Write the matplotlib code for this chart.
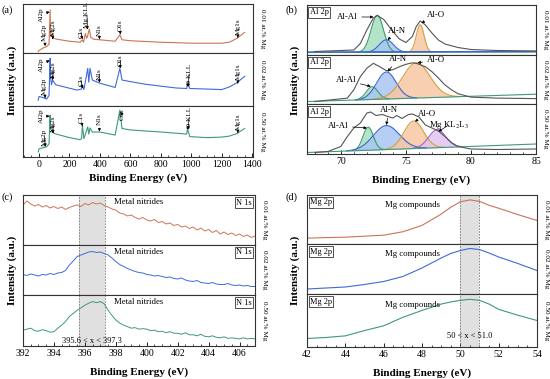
import numpy as np
import matplotlib
matplotlib.use("Agg")
import matplotlib.pyplot as plt

plt.rcParams['font.family'] = ['Liberation Serif', 'DejaVu Serif']
plt.rcParams['mathtext.fontset'] = 'stix'

W, H = 550, 379
samples = ["0.01 at.% Mg", "0.02 at.% Mg", "0.50 at.% Mg"]
colors = ['#cc7458', '#3f6ad8', '#3d9a78']

# ---------------- (a) survey ----------------
a_x = [[-5, 0, 26, 50, 66, 73, 76, 80, 89, 95, 120, 200, 270, 285, 292, 305, 312, 318, 330, 340, 360, 397, 500, 531, 545, 600, 800, 1000, 1200, 1250, 1300, 1320, 1350],
       [-5, 0, 26, 50, 66, 73, 76, 82, 89, 110, 250, 280, 285, 295, 320, 327, 335, 350, 400, 500, 531, 545, 600, 700, 900, 970, 975, 990, 1100, 1200, 1250, 1300, 1350],
       [-5, 0, 26, 50, 66, 73, 76, 90, 100, 200, 270, 280, 285, 295, 320, 327, 335, 350, 400, 500, 531, 545, 600, 800, 970, 975, 990, 1100, 1200, 1250, 1300, 1350]]
a_y = [[3, 5, 10, 13, 18, 88, 40, 34, 40, 30, 28, 24, 22, 27, 22, 40, 30, 33, 49, 32, 28, 27, 24, 37, 27, 25, 22, 20, 20, 22, 30, 35, 42],
       [11, 18, 16, 13, 20, 90, 55, 40, 49, 40, 30, 32, 40, 31, 71, 45, 71, 49, 43, 35, 71, 49, 46, 41, 34, 33, 44, 33, 32, 31, 36, 44, 56],
       [10, 16, 18, 20, 26, 82, 55, 50, 46, 38, 34, 36, 62, 36, 59, 45, 57, 49, 49, 43, 92, 56, 53, 49, 45, 56, 40, 38, 39, 41, 46, 56]]
a_labels = [
    [("Al2p", 15, 64, 70, 84), ("Mg2p", 37, 24, 40, 14), ("Mg2s", 92, 35, 90, 28), ("C1s", 275, 30, 285, 28),
     ("Mg KLL", 315, 51, 318, 48), ("N1s", 395, 34, 397, 28), ("O1s", 535, 44, 533, 38), ("Mg1s", 1308, 37, 1305, 31)],
    [("Al2p", 15, 65, 70, 86), ("Mg2p", 37, 21, 40, 15), ("Mg2s", 92, 53, 90, 49), ("C1s", 275, 38, 285, 33),
     ("N1s", 395, 49, 397, 44), ("O1s", 535, 75, 533, 71), ("O KLL", 986, 40, 978, 36), ("Mg1s", 1308, 49, 1305, 42)],
    [("Al2p", 15, 66, 70, 80), ("Mg2p", 37, 22, 42, 20), ("Mg2s", 92, 49, 92, 46), ("C1s", 275, 66, 285, 60),
     ("N1s", 395, 62, 397, 50), ("O1s", 548, 72, 533, 88), ("O KLL", 986, 56, 978, 54), ("Mg1s", 1308, 53, 1305, 47)]]

# ---------------- (b) Al 2p ----------------
b_env_x = [[68, 71, 71.5, 72, 72.5, 72.8, 73.3, 74, 74.5, 75, 75.5, 75.8, 76.1, 76.5, 77, 77.5, 78, 79, 80, 82, 85],
           [68, 70.5, 71, 71.5, 72, 72.5, 73, 73.5, 74, 74.5, 75, 75.5, 75.8, 76.5, 77, 77.5, 78, 78.5, 79, 80, 82, 85],
           [68, 69, 70, 70.5, 71, 71.5, 72, 72.3, 72.7, 73.2, 73.6, 74, 74.3, 74.7, 75.2, 75.5, 76, 76.5, 77, 77.5, 78, 78.5, 79, 80, 82, 85]]
b_env_y = [[0.07, 0.10, 0.23, 0.50, 0.74, 0.79, 0.71, 0.47, 0.32, 0.25, 0.37, 0.57, 0.68, 0.60, 0.44, 0.30, 0.22, 0.15, 0.11, 0.09, 0.08],
           [0.05, 0.12, 0.29, 0.56, 0.73, 0.83, 0.76, 0.68, 0.70, 0.76, 0.81, 0.84, 0.83, 0.76, 0.66, 0.53, 0.39, 0.29, 0.21, 0.14, 0.12, 0.11],
           [0.03, 0.05, 0.15, 0.35, 0.52, 0.62, 0.82, 0.84, 0.77, 0.79, 0.75, 0.72, 0.77, 0.71, 0.79, 0.80, 0.74, 0.58, 0.52, 0.46, 0.35, 0.23, 0.15, 0.10, 0.09, 0.10]]
b_bg = [(0.05, 0.06), (0.05, 0.20), (0.03, 0.20)]
# components: (name, center, sigma, height above background)
b_comp = [[("Al-Al", 72.8, 0.48, 0.74), ("Al-N", 73.5, 0.55, 0.25), ("Al-O", 76.1, 0.30, 0.55)],
          [("Al-Al", 72.4, 0.45, 0.26), ("Al-N", 73.5, 0.75, 0.55), ("Al-O", 75.8, 1.05, 0.72)],
          [("Al-Al", 72.1, 0.40, 0.46), ("Al-N", 73.5, 1.00, 0.48), ("Al-O", 75.6, 0.75, 0.55), ("Mg KL$_2$L$_3$", 77.4, 0.65, 0.36)]]
b_ann = [[("Al-Al", 70.5, 0.76, 72.5, 0.76), ("Al-N", 74.3, 0.48, 73.6, 0.30), ("Al-O", 77.3, 0.80, 76.2, 0.64)],
         [("Al-Al", 70.4, 0.48, 72.3, 0.36), ("Al-N", 74.4, 0.92, 73.6, 0.66), ("Al-O", 77.3, 0.90, 75.9, 0.84)],
         [("Al-Al", 69.8, 0.56, 72.0, 0.52), ("Al-N", 73.7, 0.88, 73.5, 0.58), ("Al-O", 76.6, 0.80, 75.7, 0.65),
          ("Mg KL$_2$L$_3$", 78.3, 0.58, 77.5, 0.45)]]
comp_style = {"Al-Al": ('#a6e0c0', '#3f9a68'), "Al-N": ('#a9c6f2', '#3a66d0'),
              "Al-O": ('#f7c7a2', '#d2a040'), "Mg KL$_2$L$_3$": ('#e2c4f0', '#a067c4')}

# ---------------- (c) N 1s ----------------
c_x = np.arange(392.0, 407.01, 0.25)
c_y = [
    [0.80, 0.88, 0.82, 0.78, 0.81, 0.76, 0.79, 0.74, 0.77, 0.73, 0.76, 0.71, 0.75, 0.78, 0.80, 0.77, 0.83, 0.80, 0.85, 0.82,
     0.84, 0.79, 0.76, 0.72, 0.70, 0.64, 0.62, 0.58, 0.60, 0.55, 0.52, 0.55, 0.50, 0.48, 0.51, 0.45, 0.47, 0.42, 0.44, 0.39,
     0.41, 0.36, 0.38, 0.33, 0.36, 0.30, 0.34, 0.28, 0.31, 0.25, 0.29, 0.22, 0.26, 0.21, 0.24, 0.19, 0.22, 0.17, 0.20, 0.15, 0.18],
    [0.41, 0.39, 0.42, 0.40, 0.38, 0.41, 0.40, 0.43, 0.41, 0.44, 0.45, 0.49, 0.60, 0.68, 0.77, 0.80, 0.83, 0.86, 0.87, 0.85,
     0.86, 0.83, 0.80, 0.74, 0.67, 0.61, 0.57, 0.53, 0.50, 0.47, 0.45, 0.44, 0.41, 0.40, 0.38, 0.39, 0.37, 0.35, 0.36, 0.33,
     0.32, 0.34, 0.30, 0.28, 0.27, 0.29, 0.25, 0.24, 0.23, 0.25, 0.22, 0.21, 0.21, 0.23, 0.20, 0.19, 0.20, 0.18, 0.19, 0.17, 0.17],
    [0.31, 0.33, 0.35, 0.30, 0.29, 0.32, 0.30, 0.27, 0.28, 0.35, 0.41, 0.48, 0.58, 0.64, 0.70, 0.75, 0.80, 0.84, 0.87, 0.85,
     0.87, 0.83, 0.70, 0.60, 0.51, 0.45, 0.41, 0.38, 0.35, 0.36, 0.33, 0.34, 0.33, 0.30, 0.31, 0.28, 0.29, 0.26, 0.28, 0.25,
     0.25, 0.23, 0.26, 0.22, 0.22, 0.20, 0.23, 0.19, 0.18, 0.20, 0.17, 0.16, 0.18, 0.15, 0.16, 0.15, 0.14, 0.16, 0.14, 0.15, 0.14]]
c_band = (395.6, 397.3)

# ---------------- (d) Mg 2p ----------------
d_x = [42, 43, 44, 45, 46, 47, 48, 49, 49.5, 50, 50.5, 51, 51.5, 52, 53, 54]
d_y = [[0.12, 0.13, 0.14, 0.16, 0.18, 0.25, 0.38, 0.61, 0.75, 0.86, 0.90, 0.87, 0.79, 0.73, 0.60, 0.48],
       [0.10, 0.12, 0.14, 0.19, 0.25, 0.35, 0.52, 0.72, 0.81, 0.87, 0.91, 0.89, 0.82, 0.74, 0.61, 0.47],
       [0.16, 0.18, 0.21, 0.31, 0.40, 0.56, 0.69, 0.81, 0.85, 0.88, 0.90, 0.88, 0.81, 0.71, 0.60, 0.50]]
d_band = (50.0, 51.0)

fig = plt.figure(figsize=(W / 100, H / 100), dpi=100)

def add_ax(l, r, t, b):
    return fig.add_axes([l / W, 1 - b / H, (r - l) / W, (b - t) / H])

def style(ax, bottom):
    for s in ax.spines.values():
        s.set_linewidth(0.8)
        s.set_color('#333333')
    ax.set_yticks([])
    if bottom:
        ax.tick_params(axis='x', direction='in', length=3, width=0.6, labelsize=7, pad=2)
        ax.minorticks_on()
        ax.tick_params(axis='x', which='minor', direction='in', length=1.5, width=0.5)
        ax.tick_params(axis='y', which='both', left=False)
    else:
        ax.set_xticks([])
        ax.tick_params(axis='x', which='both', bottom=False, labelbottom=False)

def panel_axes(l, r, t, splits, b):
    edges = [t] + splits + [b]
    return [add_ax(l, r, edges[i], edges[i + 1]) for i in range(3)]

def side_label(ax, i):
    ax.text(1.03, 0.5, samples[i], transform=ax.transAxes, rotation=-90, va='center', ha='left', fontsize=5.2)

# ----- panel a -----
axa = panel_axes(23, 253, 4, [53, 106], 157)
for i, ax in enumerate(axa):
    ax.plot(a_x[i], a_y[i], color=colors[i], lw=0.8)
    ax.set_xlim(-105, 1405)
    ax.set_ylim(0, 100)
    style(ax, i == 2)
    side_label(ax, i)
    for (txt, tx, ty, px, py) in a_labels[i]:
        ax.annotate(txt, xy=(px, py), xytext=(tx, ty), rotation=90, ha='center', va='bottom', fontsize=5.2,
                    arrowprops=dict(arrowstyle='-|>', lw=0.5, color='black', mutation_scale=4, shrinkA=0, shrinkB=0))
axa[2].set_xticks(np.arange(0, 1401, 200))
axa[2].set_xlabel("Binding Energy (eV)", fontsize=8, fontweight='bold', labelpad=3)
fig.text(12 / W, 1 - 80 / H, "Intensity (a.u.)", rotation=90, va='center', ha='center', fontsize=8, fontweight='bold')
fig.text(2 / W, 1 - 10 / H, "(a)", fontsize=7.5, va='center')

# ----- panel b -----
axb = panel_axes(307, 536, 5, [55, 104], 154)
xlo, xhi = 67.4, 85
for i, ax in enumerate(axb):
    xs = np.linspace(xlo, xhi, 400)
    b0, b1 = b_bg[i]
    bg = b0 + (b1 - b0) * (xs - xlo) / (xhi - xlo)
    for (name, c, s, h) in b_comp[i]:
        comp = bg + h * np.exp(-0.5 * ((xs - c) / s) ** 2)
        fc, ec = comp_style[name]
        mask = comp - bg > 0.004
        ax.fill_between(xs, bg, comp, where=mask, color=fc, alpha=0.85, lw=0)
        ax.plot(xs[mask], comp[mask], color=ec, lw=0.8)
    ax.plot(xs, bg, color='#3f9a78', lw=0.8)
    if i == 0:
        ax.plot(xs, bg + 0.01, color='#3a66d0', lw=1.0)
    ax.plot(b_env_x[i], b_env_y[i], color='#555555', lw=0.8)
    ax.set_xlim(xlo, xhi)
    ax.set_ylim(0, 1)
    style(ax, i == 2)
    side_label(ax, i)
    ax.text(0.012, 0.93, "Al 2p", transform=ax.transAxes, fontsize=6, va='top', ha='left',
            bbox=dict(boxstyle='square,pad=0.15', fc='white', ec='#333333', lw=0.6))
    for (txt, tx, ty, px, py) in b_ann[i]:
        ax.annotate(txt, xy=(px, py), xytext=(tx, ty), ha='center', va='center', fontsize=6.3,
                    arrowprops=dict(arrowstyle='-|>', lw=0.5, color='black', mutation_scale=4, shrinkA=1, shrinkB=0))
axb[2].set_xticks([70, 75, 80, 85])
axb[2].set_xlabel("Binding Energy (eV)", fontsize=8, fontweight='bold', labelpad=7)
fig.text(295 / W, 1 - 80 / H, "Intensity (a.u.)", rotation=90, va='center', ha='center', fontsize=8, fontweight='bold')
fig.text(285 / W, 1 - 10 / H, "(b)", fontsize=7.5, va='center')

# ----- panel c -----
axc = panel_axes(23, 255, 195, [245, 295], 346)
for i, ax in enumerate(axc):
    ax.axvspan(*c_band, color='#e0e0e0', lw=0)
    for v in c_band:
        ax.axvline(v, color='#777777', lw=0.6, ls=(0, (2, 1.5)))
    ax.plot(c_x, c_y[i], color=colors[i], lw=0.7)
    ax.set_xlim(392, 407)
    ax.set_ylim(0, 1)
    style(ax, i == 2)
    side_label(ax, i)
    ax.text(399.5, 0.87, "Metal nitrides", fontsize=6.3, ha='center', va='center')
    ax.text(0.985, 0.93, "N 1s", transform=ax.transAxes, fontsize=6, va='top', ha='right',
            bbox=dict(boxstyle='square,pad=0.15', fc='white', ec='#333333', lw=0.6))
axc[2].text(396.45, 0.1, "395.6 < x < 397.3", fontsize=6, ha='center', va='center')
axc[2].set_xticks(np.arange(392, 407, 2))
axc[2].set_xlabel("Binding Energy (eV)", fontsize=8, fontweight='bold', labelpad=7)
fig.text(12 / W, 1 - 270 / H, "Intensity (a.u.)", rotation=90, va='center', ha='center', fontsize=8, fontweight='bold')
fig.text(2 / W, 1 - 197 / H, "(c)", fontsize=7.5, va='center')

# ----- panel d -----
axd = panel_axes(307, 537, 195, [244, 294], 347)
for i, ax in enumerate(axd):
    ax.axvspan(*d_band, color='#e0e0e0', lw=0)
    for v in d_band:
        ax.axvline(v, color='#777777', lw=0.6, ls=(0, (2, 1.5)))
    ax.plot(d_x, d_y[i], color=colors[i], lw=0.8)
    ax.set_xlim(42, 54)
    ax.set_ylim(0, 1)
    style(ax, i == 2)
    side_label(ax, i)
    ax.text(47.5, 0.8, "Mg compounds", fontsize=6.3, ha='center', va='center')
    ax.text(0.012, 0.93, "Mg 2p", transform=ax.transAxes, fontsize=6, va='top', ha='left',
            bbox=dict(boxstyle='square,pad=0.15', fc='white', ec='#333333', lw=0.6))
axd[2].text(50.5, 0.2, "50 < x < 51.0", fontsize=6, ha='center', va='center')
axd[2].set_xticks(np.arange(42, 55, 2))
axd[2].set_xlabel("Binding Energy (eV)", fontsize=8, fontweight='bold', labelpad=7)
fig.text(295 / W, 1 - 270 / H, "Intensity (a.u.)", rotation=90, va='center', ha='center', fontsize=8, fontweight='bold')
fig.text(285 / W, 1 - 197 / H, "(d)", fontsize=7.5, va='center')

fig.savefig("out.png", dpi=100)
